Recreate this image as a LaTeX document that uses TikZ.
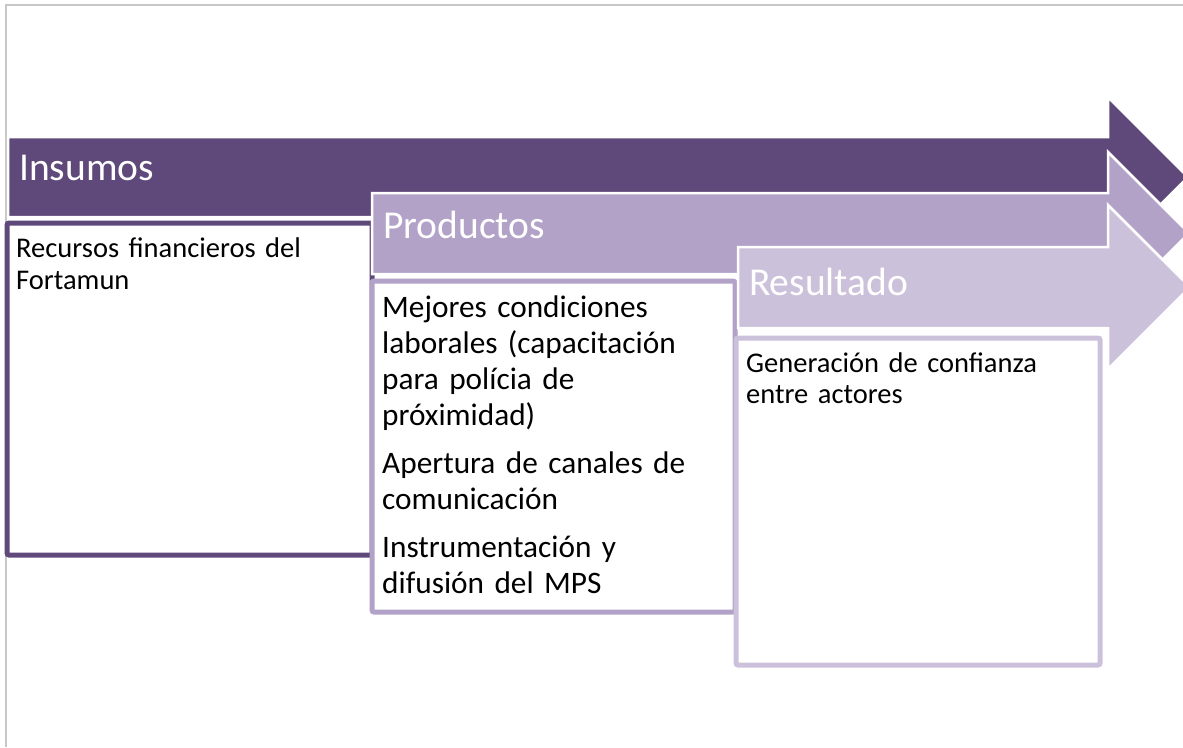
\documentclass[tikz,border=0pt]{standalone}
\usepackage{fontspec}
\setmainfont{Carlito}
\usetikzlibrary{positioning}
\definecolor{insumoscol}{HTML}{5F497A}
\definecolor{productoscol}{HTML}{B2A2C7}
\definecolor{resultadocol}{HTML}{CCC1DA}
\begin{document}
\begin{tikzpicture}[
    x=1pt, y=-1pt,
    bar/.style={draw=white, line width=2.5pt, line join=miter},
    box/.style={rectangle, draw, fill=white, line width=5pt, rounded corners=2pt, outer sep=0pt, inner sep=0pt},
    title/.style={anchor=base west, inner sep=0pt, text=white, font=\fontsize{39.5}{47}\selectfont},
    boxtext/.style={anchor=base west, inner sep=0pt, align=left, text width=#1},
    boxtext/.default=340pt
    ]
\useasboundingbox (0,0) rectangle (1183,747);

% Frame
\draw[black!22, line width=2pt] (6,747) |- (1183,5);

% Insumos
\fill[insumoscol, bar] (8,137) -- (1108,137) -- (1108,97) -- (1188,177) -- (1108,257) -- (1108,217) -- (8,217) -- cycle;
\node[title] (insumos) at (19,180) {Insumos};
\node[box, draw=insumoscol, minimum width=365pt, minimum height=332pt, anchor=north west] (insbox) at (7,223) {};
\node[boxtext=350pt, font=\fontsize{28.5}{32}\selectfont] (instext) at ([shift={(9,34)}]insbox.north west)
    {Recursos financieros del\\Fortamun};

% Productos
\fill[productoscol, bar] (372,193) -- (1108,193) -- (1108,152) -- (1189,233) -- (1108,314) -- (1108,274) -- (372,274) -- cycle;
\node[title] (productos) at (383,238) {Productos};
\node[box, draw=productoscol, minimum width=363pt, minimum height=331pt, anchor=north west] (probox) at (372,281) {};
\node[boxtext=350pt, font=\fontsize{31.3}{36}\selectfont] (protext) at ([shift={(10,36)}]probox.north west)
    {Mejores condiciones\\laborales (capacitación\\para polícia de\\próximidad)\\[12pt]
     Apertura de canales de\\comunicación\\[12pt]
     Instrumentación y\\difusión del MPS};

% Resultado
\fill[resultadocol, bar] (738,247) -- (1108,247) -- (1108,205) -- (1190,287) -- (1108,369) -- (1108,328) -- (738,328) -- cycle;
\node[title] (resultado) at (749,295) {Resultado};
\node[box, draw=resultadocol, minimum width=364pt, minimum height=327pt, anchor=north west] (resbox) at (736,338) {};
\node[boxtext=350pt, font=\fontsize{28.5}{31.5}\selectfont] (restext) at ([shift={(10,34)}]resbox.north west)
    {Generación de confianza\\entre actores};

\end{tikzpicture}
\end{document}
